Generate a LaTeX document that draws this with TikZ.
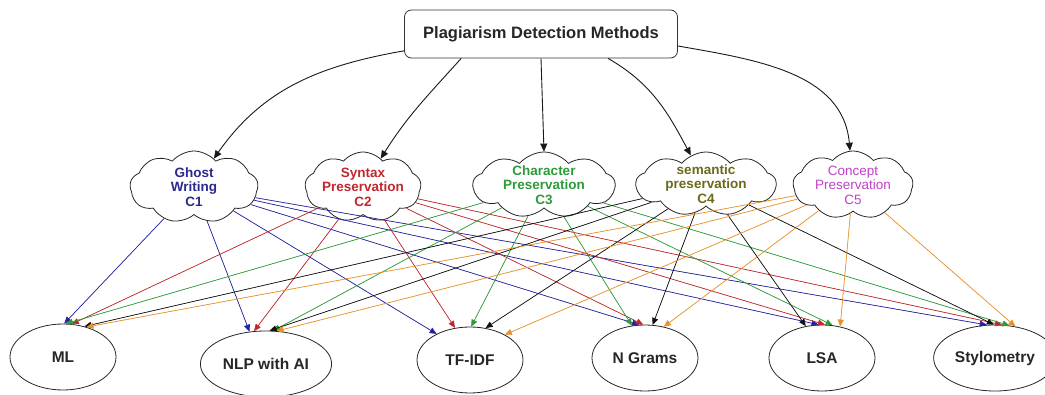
\documentclass[tikz,border=0pt]{standalone}
\usepackage{fontspec}
\setmainfont{Liberation Sans}
\usetikzlibrary{shapes.symbols,shapes.geometric,arrows.meta}
\definecolor{navyT}{HTML}{2A2A8C}
\definecolor{lnA}{HTML}{24249E}
\definecolor{lnB}{HTML}{C0282D}
\definecolor{lnC}{HTML}{2E9A3A}
\definecolor{lnD}{HTML}{111111}
\definecolor{lnE}{HTML}{E8922A}
\definecolor{olive}{HTML}{6A6A1A}
\definecolor{violet}{HTML}{C040C8}
\begin{document}
\begin{tikzpicture}[x=1pt,y=-1pt,
  cloudbox/.style={cloud, draw=black!85, line width=0.8pt, cloud puffs=9, cloud puff arc=100, cloud ignores aspect, inner sep=0pt},
  ctext/.style={align=center, font=\fontsize{13.5}{14.5}\selectfont\bfseries},
  target/.style={ellipse, draw=black!85, line width=0.8pt, fill=white, minimum width=106pt, minimum height=66pt, font=\fontsize{15.5}{17}\selectfont\bfseries, text=black!85},
  toparrow/.style={draw=black!90, line width=0.9pt, -{Triangle[length=8pt,width=7pt]}},
  edge/.style={line width=0.7pt, -{Triangle[length=7pt,width=6pt]}},
  eA/.style={edge, draw=lnA, fill=lnA},
  eB/.style={edge, draw=lnB, fill=lnB},
  eC/.style={edge, draw=lnC, fill=lnC},
  eD/.style={edge, draw=lnD, fill=lnD},
  eE/.style={edge, draw=lnE, fill=lnE}]
\useasboundingbox (0,0) rectangle (1045,395);

% top node
\node[draw=black!80, line width=0.8pt, rounded corners=7pt, minimum width=273pt, minimum height=48pt,
      font=\fontsize{16.5}{18}\selectfont\bfseries, text=black!85] (top) at (541,34) {Plagiarism Detection Methods};

% clouds
\node[cloudbox, minimum width=128pt, minimum height=72pt] (c1) at (194,187) {};
\node[cloudbox, minimum width=116pt, minimum height=70pt] (c2) at (363,187) {};
\node[cloudbox, minimum width=142pt, minimum height=66pt] (c3) at (544,185) {};
\node[cloudbox, minimum width=140pt, minimum height=64pt] (c4) at (706,184) {};
\node[cloudbox, minimum width=120pt, minimum height=68pt] (c5) at (853,185) {};

\node[ctext, text=navyT] (t1) at (c1) {Ghost\\Writing\\C1};
\node[ctext, text=lnB] (t2) at (c2) {Syntax\\Preservation\\C2};
\node[ctext, text=lnC] (t3) at (c3) {Character\\Preservation\\C3};
\node[ctext, text=olive] (t4) at (c4) {semantic\\preservation\\C4};
\node[ctext, text=violet, font=\fontsize{13.5}{14.5}\selectfont\mdseries] (t5) at (c5) {Concept\\Preservation\\C5};

% targets
\node[target] (ml) at (63,357) {ML};
\node[target] (nlp) at (266,364) {NLP with AI};
\node[target] (tf) at (470,360) {TF-IDF};
\node[target] (ng) at (645,358) {N Grams};
\node[target] (lsa) at (822,358) {LSA};
\node[target, minimum width=102pt] (sty) at (995,358) {Stylometry};

% top arrows
\draw[toparrow] (top.187) to[out=190,in=55] (c1);
\draw[toparrow] (top.197) to[out=228,in=58] (c2);
\draw[toparrow] (top.south) -- (c3.north);
\draw[toparrow] (top.-20) to[out=-30,in=118] (c4);
\draw[toparrow] (top.-5) to[out=-10,in=95] (c5);

% C1 (blue)
\draw[eA] (c1) -- (ml.88);
\draw[eA] (c1) -- (nlp.117);
\draw[eA] (c1) -- (tf.142);
\draw[eA] (c1) -- (ng.100);
\draw[eA] (c1) -- (lsa.96);
\draw[eA] (c1) -- (sty.104);
% C2 (red)
\draw[eB] (c2) -- (ml.75);
\draw[eB] (c2) -- (nlp.110);
\draw[eB] (c2) -- (tf.115);
\draw[eB] (c2) -- (ng.93);
\draw[eB] (c2) -- (lsa.85);
\draw[eB] (c2) -- (sty.78);
% C3 (green)
\draw[eC] (c3) -- (ml.85);
\draw[eC] (c3) -- (nlp.78);
\draw[eC] (c3) -- (tf.88);
\draw[eC] (c3) -- (ng.112);
\draw[eC] (c3) -- (lsa.72);
\draw[eC] (c3) -- (sty.66);
% C4 (black)
\draw[eD] (c4) -- (ml.55);
\draw[eD] (c4) -- (nlp.84);
\draw[eD] (c4) -- (tf.64);
\draw[eD] (c4) -- (ng.77);
\draw[eD] (c4) -- (lsa.117);
\draw[eD] (c4) -- (sty.92);
% C5 (orange)
\draw[eE] (c5) -- (ml.52);
\draw[eE] (c5) -- (nlp.72);
\draw[eE] (c5) -- (tf.36);
\draw[eE] (c5) -- (ng.59);
\draw[eE] (c5) -- (lsa.60);
\draw[eE] (c5) -- (sty.57);
\end{tikzpicture}
\end{document}
